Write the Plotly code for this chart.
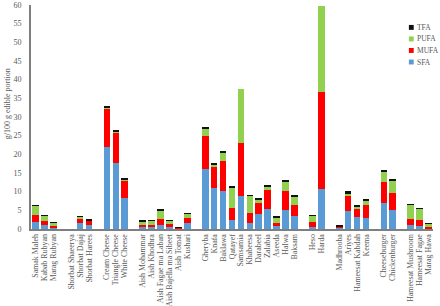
import plotly.graph_objects as go

categories = [
    "Samak Maleh", "Kabab Rubyan", "Marag Rubyan", " ",
    "Shorbat Shaeerya", "Shorbat Dajaj", "Shorbat Harees", "  ",
    "Cream Cheese", "Triangle Cheese", "White Cheese", "   ",
    "Aish Mohammar", "Aish Khodhra", "Aish Fagae ma Laban", "Aish Bajella ma Sibeet", "Aish Tomat", "Kushari", "    ",
    "Gheryba", "Knafa", "Baklawa", "Qatayef", "Samsamia", "Khabeesa", "Darabeel", "Zalabia", "Aseeda", "Halwa", "Baksam", "     ",
    "Heso", "Harda", "      ",
    "Madhrooba", "Ariyes", "Hameesat Kabdah", "Keema", "       ",
    "Cheeseburger", "Chickenburger", "        ",
    "Hameesat Mushroom", "Hameesat Fagae", "Marag Hawa",
]

sfa = [2.0, 0.97, 0.27, None,
       0.0, 1.5, 1.07, None,
       21.9, 17.55, 8.3, None,
       0.5, 0.5, 0.97, 0.55, 0.1, 1.6, None,
       16.1, 10.9, 10.2, 2.3, 8.9, 1.6, 3.9, 5.45, 0.8, 5.0, 3.6, None,
       0.45, 10.6, None,
       0.3, 4.7, 3.1, 3.0, None,
       6.9, 5.0, None,
       0.97, 0.8, 0.1]

mufa = [1.85, 1.1, 0.45, None,
        0.0, 1.27, 1.15, None,
        10.4, 8.4, 4.7, None,
        0.6, 0.7, 1.8, 0.7, 0.2, 1.25, None,
        8.8, 5.7, 7.9, 3.4, 14.2, 2.6, 3.1, 4.95, 0.9, 5.2, 2.9, None,
        1.45, 26.0, None,
        0.4, 4.25, 2.5, 3.35, None,
        5.6, 4.7, None,
        1.8, 1.7, 0.5]

pufa = [2.5, 1.5, 0.9, None,
        0.0, 0.6, 0.15, None,
        0.3, 0.2, 0.3, None,
        1.0, 1.1, 2.1, 1.0, 0.1, 1.25, None,
        2.0, 0.7, 2.5, 5.3, 14.5, 4.7, 0.9, 1.05, 1.5, 2.6, 2.3, None,
        1.7, 23.0, None,
        0.1, 0.45, 0.5, 1.35, None,
        2.8, 3.4, None,
        3.75, 2.95, 0.8]

tfa = [0.05, 0.05, 0.05, None,
       0.0, 0.1, 0.05, None,
       0.3, 0.2, 0.3, None,
       0.05, 0.05, 0.25, 0.15, 0.05, 0.05, None,
       0.3, 0.5, 0.4, 0.3, 0.0, 0.05, 0.2, 0.3, 0.05, 0.45, 0.2, None,
       0.1, 0.0, None,
       0.25, 0.7, 0.2, 0.15, None,
       0.45, 0.2, None,
       0.05, 0.05, 0.05]

series = [
    ("SFA", sfa, "#5B9BD5"),
    ("MUFA", mufa, "#FF0000"),
    ("PUFA", pufa, "#92D050"),
    ("TFA", tfa, "#111111"),
]

fig = go.Figure()
for name, vals, color in series:
    fig.add_trace(go.Bar(x=categories, y=vals, name=name, marker_color=color,
                         marker_line_width=0, showlegend=False))

# custom small legend (TFA on top, SFA at bottom)
leg_x = 0.94
leg_top = 0.9
leg_step = 0.0515
for i, (name, vals, color) in enumerate(reversed(series)):
    yc = leg_top - i * leg_step
    fig.add_shape(type="rect", xref="paper", yref="paper",
                  x0=leg_x, x1=leg_x + 0.012, y0=yc - 0.011, y1=yc + 0.011,
                  fillcolor=color, line_width=0)
    fig.add_annotation(text=name, xref="paper", yref="paper", x=leg_x + 0.015, y=yc,
                       xanchor="left", yanchor="middle", showarrow=False,
                       font=dict(size=7.5, color="#595959"))

# y-axis title
fig.add_annotation(text="g/100 g edible portion", xref="paper", yref="paper",
                   x=-0.058, y=0.56, textangle=-90, showarrow=False,
                   xanchor="center", yanchor="middle",
                   font=dict(size=8, color="#595959"))

serif = "Liberation Serif, Times New Roman, serif"
fig.update_layout(
    barmode="stack",
    bargap=0.25,
    width=440, height=306,
    margin=dict(l=31, r=7, t=5, b=77),
    plot_bgcolor="white", paper_bgcolor="white",
    font=dict(family=serif, size=8, color="#595959"),
    showlegend=False,
    xaxis=dict(type="category", tickangle=-90, showgrid=False, showline=True, dtick=1,
               linecolor="#7f7f7f", linewidth=2, ticks="", tickfont=dict(size=7.9),
               automargin=False, ticklabelstandoff=0),
    yaxis=dict(range=[0, 60], dtick=5, showgrid=False, showline=True, linecolor="#7f7f7f",
               linewidth=2, ticks="", zeroline=False, tickfont=dict(size=8), automargin=False,
               ticklabelstandoff=6),
)

fig.write_html("out.html", config={"displayModeBar": False},
               post_script="document.body.style.margin='0';document.body.style.padding='0';")
